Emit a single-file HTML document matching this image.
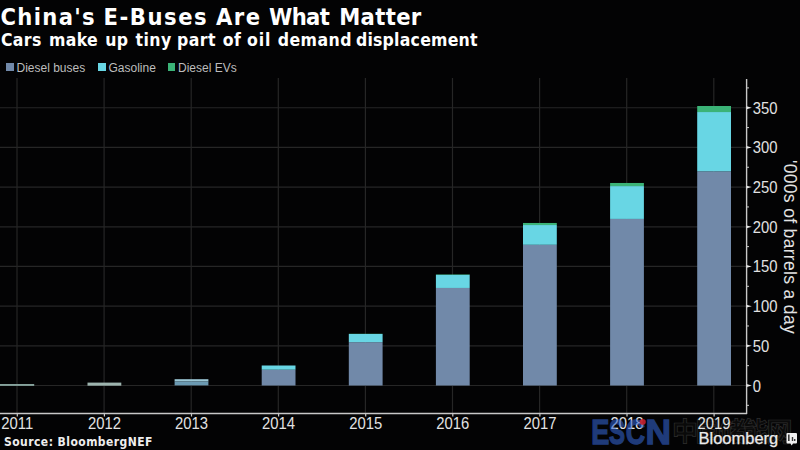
<!DOCTYPE html>
<html><head><meta charset="utf-8">
<style>
html,body{margin:0;padding:0;background:#030304;}
body{width:800px;height:450px;overflow:hidden;position:relative;}
.t,.tw,.sw{position:absolute;white-space:nowrap;color:#fff;}
.tw{font:bold 23.5px/1 "DejaVu Sans",sans-serif;font-stretch:condensed;}
.sw{font:bold 17.5px/1 "DejaVu Sans",sans-serif;font-stretch:condensed;}
.lg{position:absolute;top:62px;font:12px/1 "Liberation Sans",sans-serif;color:#bdbdbd;white-space:nowrap;}
.sq{position:absolute;width:7.5px;height:7.5px;}
#src{left:4px;top:436px;font:bold 12px/1 "DejaVu Sans",sans-serif;font-stretch:condensed;letter-spacing:0.45px;color:#eee;}
svg{position:absolute;left:0;top:0;}
.tl{font:15.8px "Liberation Sans",sans-serif;fill:#e2e2e2;}
</style></head><body>
<svg width="800" height="450" viewBox="0 0 800 450">
<line x1="0" y1="385.50" x2="746" y2="385.50" stroke="#262626" stroke-width="1.2"/>
<line x1="0" y1="345.82" x2="746" y2="345.82" stroke="#262626" stroke-width="1.2"/>
<line x1="0" y1="306.14" x2="746" y2="306.14" stroke="#262626" stroke-width="1.2"/>
<line x1="0" y1="266.46" x2="746" y2="266.46" stroke="#262626" stroke-width="1.2"/>
<line x1="0" y1="226.78" x2="746" y2="226.78" stroke="#262626" stroke-width="1.2"/>
<line x1="0" y1="187.10" x2="746" y2="187.10" stroke="#262626" stroke-width="1.2"/>
<line x1="0" y1="147.42" x2="746" y2="147.42" stroke="#262626" stroke-width="1.2"/>
<line x1="0" y1="107.74" x2="746" y2="107.74" stroke="#262626" stroke-width="1.2"/>
<line x1="17.00" y1="78" x2="17.00" y2="413" stroke="#262626" stroke-width="1.2"/>
<line x1="104.10" y1="78" x2="104.10" y2="413" stroke="#262626" stroke-width="1.2"/>
<line x1="191.20" y1="78" x2="191.20" y2="413" stroke="#262626" stroke-width="1.2"/>
<line x1="278.30" y1="78" x2="278.30" y2="413" stroke="#262626" stroke-width="1.2"/>
<line x1="365.40" y1="78" x2="365.40" y2="413" stroke="#262626" stroke-width="1.2"/>
<line x1="452.50" y1="78" x2="452.50" y2="413" stroke="#262626" stroke-width="1.2"/>
<line x1="539.60" y1="78" x2="539.60" y2="413" stroke="#262626" stroke-width="1.2"/>
<line x1="626.70" y1="78" x2="626.70" y2="413" stroke="#262626" stroke-width="1.2"/>
<line x1="713.80" y1="78" x2="713.80" y2="413" stroke="#262626" stroke-width="1.2"/>
<rect x="0" y="384" width="34.2" height="1.9" fill="#86a29c"/>
<rect x="87.50" y="382.6" width="33.8" height="3.1" fill="#9db4ae"/>
<rect x="174.60" y="379.2" width="33.8" height="2.3" fill="#9cc8d6"/>
<rect x="174.60" y="381.5" width="33.8" height="3.9" fill="#6b9ab2"/>
<rect x="261.70" y="369.71" width="33.8" height="15.79" fill="#7189a9"/>
<rect x="261.70" y="365.50" width="33.8" height="4.21" fill="#68d6e4"/>
<rect x="348.80" y="342.17" width="33.8" height="43.33" fill="#7189a9"/>
<rect x="348.80" y="334.00" width="33.8" height="8.17" fill="#68d6e4"/>
<rect x="348.80" y="333.76" width="33.8" height="0.24" fill="#3bb377"/>
<rect x="435.90" y="287.97" width="33.8" height="97.53" fill="#7189a9"/>
<rect x="435.90" y="274.79" width="33.8" height="13.17" fill="#68d6e4"/>
<rect x="435.90" y="274.40" width="33.8" height="0.40" fill="#3bb377"/>
<rect x="523.00" y="244.79" width="33.8" height="140.71" fill="#7189a9"/>
<rect x="523.00" y="225.03" width="33.8" height="19.76" fill="#68d6e4"/>
<rect x="523.00" y="222.97" width="33.8" height="2.06" fill="#3bb377"/>
<rect x="610.10" y="218.92" width="33.8" height="166.58" fill="#7189a9"/>
<rect x="610.10" y="186.07" width="33.8" height="32.86" fill="#68d6e4"/>
<rect x="610.10" y="182.97" width="33.8" height="3.10" fill="#3bb377"/>
<rect x="697.20" y="171.31" width="33.8" height="214.19" fill="#7189a9"/>
<rect x="697.20" y="112.03" width="33.8" height="59.28" fill="#68d6e4"/>
<rect x="697.20" y="105.99" width="33.8" height="6.03" fill="#3bb377"/>
<line x1="0" y1="413.5" x2="747" y2="413.5" stroke="#c8c8c8" stroke-width="1.3"/>
<line x1="746.6" y1="79" x2="746.6" y2="414" stroke="#c8c8c8" stroke-width="1.4"/>
<line x1="17.30" y1="413" x2="17.30" y2="416.5" stroke="#c8c8c8" stroke-width="1.2"/>
<line x1="104.40" y1="413" x2="104.40" y2="416.5" stroke="#c8c8c8" stroke-width="1.2"/>
<line x1="191.50" y1="413" x2="191.50" y2="416.5" stroke="#c8c8c8" stroke-width="1.2"/>
<line x1="278.60" y1="413" x2="278.60" y2="416.5" stroke="#c8c8c8" stroke-width="1.2"/>
<line x1="365.70" y1="413" x2="365.70" y2="416.5" stroke="#c8c8c8" stroke-width="1.2"/>
<line x1="452.80" y1="413" x2="452.80" y2="416.5" stroke="#c8c8c8" stroke-width="1.2"/>
<line x1="539.90" y1="413" x2="539.90" y2="416.5" stroke="#c8c8c8" stroke-width="1.2"/>
<line x1="627.00" y1="413" x2="627.00" y2="416.5" stroke="#c8c8c8" stroke-width="1.2"/>
<line x1="714.10" y1="413" x2="714.10" y2="416.5" stroke="#c8c8c8" stroke-width="1.2"/>
<polygon points="746.5,384.10 751.8,385.50 746.5,386.90" fill="#e6e6e6"/>
<polygon points="746.5,344.42 751.8,345.82 746.5,347.22" fill="#e6e6e6"/>
<polygon points="746.5,304.74 751.8,306.14 746.5,307.54" fill="#e6e6e6"/>
<polygon points="746.5,265.06 751.8,266.46 746.5,267.86" fill="#e6e6e6"/>
<polygon points="746.5,225.38 751.8,226.78 746.5,228.18" fill="#e6e6e6"/>
<polygon points="746.5,185.70 751.8,187.10 746.5,188.50" fill="#e6e6e6"/>
<polygon points="746.5,146.02 751.8,147.42 746.5,148.82" fill="#e6e6e6"/>
<polygon points="746.5,106.34 751.8,107.74 746.5,109.14" fill="#e6e6e6"/>
<line x1="746" y1="405.34" x2="749" y2="405.34" stroke="#c8c8c8" stroke-width="1"/>
<line x1="746" y1="365.66" x2="749" y2="365.66" stroke="#c8c8c8" stroke-width="1"/>
<line x1="746" y1="325.98" x2="749" y2="325.98" stroke="#c8c8c8" stroke-width="1"/>
<line x1="746" y1="286.30" x2="749" y2="286.30" stroke="#c8c8c8" stroke-width="1"/>
<line x1="746" y1="246.62" x2="749" y2="246.62" stroke="#c8c8c8" stroke-width="1"/>
<line x1="746" y1="206.94" x2="749" y2="206.94" stroke="#c8c8c8" stroke-width="1"/>
<line x1="746" y1="167.26" x2="749" y2="167.26" stroke="#c8c8c8" stroke-width="1"/>
<line x1="746" y1="127.58" x2="749" y2="127.58" stroke="#c8c8c8" stroke-width="1"/>
<line x1="746" y1="87.90" x2="749" y2="87.90" stroke="#c8c8c8" stroke-width="1"/>
</svg>
<span class="tw" style="left:0.5px;top:6px;letter-spacing:1.33px">China's</span>
<span class="tw" style="left:103.5px;top:6px;letter-spacing:1.53px">E-Buses</span>
<span class="tw" style="left:216px;top:6px;letter-spacing:1.5px">Are</span>
<span class="tw" style="left:269px;top:6px;letter-spacing:-0.67px">What</span>
<span class="tw" style="left:339.2px;top:6px;letter-spacing:0.36px">Matter</span>
<span class="sw" style="left:0.9px;top:32.2px;letter-spacing:0.4px">Cars</span>
<span class="sw" style="left:49px;top:32.2px;letter-spacing:0.3px">make</span>
<span class="sw" style="left:105.2px;top:32.2px;letter-spacing:0.4px">up</span>
<span class="sw" style="left:135.6px;top:32.2px;letter-spacing:0.4px">tiny</span>
<span class="sw" style="left:177.1px;top:32.2px;letter-spacing:0.4px">part</span>
<span class="sw" style="left:222.7px;top:32.2px;letter-spacing:0.4px">of</span>
<span class="sw" style="left:247.1px;top:32.2px;letter-spacing:0.8px">oil</span>
<span class="sw" style="left:277.7px;top:32.2px;letter-spacing:0.45px">demand</span>
<span class="sw" style="left:355.9px;top:32.2px;letter-spacing:0.23px">displacement</span>
<div class="sq" style="left:6.3px;top:63.2px;background:#7189a9"></div>
<div class="lg" style="left:16.5px">Diesel buses</div>
<div class="sq" style="left:98.1px;top:63.2px;background:#68d6e4"></div>
<div class="lg" style="left:108.5px">Gasoline</div>
<div class="sq" style="left:167.8px;top:63.2px;background:#3bb377"></div>
<div class="lg" style="left:178px">Diesel EVs</div>
<svg width="800" height="450" viewBox="0 0 800 450">
<text x="672" y="441" style="font:bold 26px 'Liberation Sans','Noto Sans CJK SC',sans-serif;letter-spacing:-2.4px;fill:#0a0a0a;stroke:#2e2e2e;stroke-width:0.7">中国储能网</text>
<text transform="translate(752.8,391.50) scale(0.94,1)" class="tl">0</text>
<text transform="translate(752.8,351.82) scale(0.94,1)" class="tl">50</text>
<text transform="translate(752.8,312.14) scale(0.94,1)" class="tl">100</text>
<text transform="translate(752.8,272.46) scale(0.94,1)" class="tl">150</text>
<text transform="translate(752.8,232.78) scale(0.94,1)" class="tl">200</text>
<text transform="translate(752.8,193.10) scale(0.94,1)" class="tl">250</text>
<text transform="translate(752.8,153.42) scale(0.94,1)" class="tl">300</text>
<text transform="translate(752.8,113.74) scale(0.94,1)" class="tl">350</text>
<text transform="translate(17.30,428.8) scale(0.94,1)" class="tl" text-anchor="middle">2011</text>
<text transform="translate(104.40,428.8) scale(0.94,1)" class="tl" text-anchor="middle">2012</text>
<text transform="translate(191.50,428.8) scale(0.94,1)" class="tl" text-anchor="middle">2013</text>
<text transform="translate(278.60,428.8) scale(0.94,1)" class="tl" text-anchor="middle">2014</text>
<text transform="translate(365.70,428.8) scale(0.94,1)" class="tl" text-anchor="middle">2015</text>
<text transform="translate(452.80,428.8) scale(0.94,1)" class="tl" text-anchor="middle">2016</text>
<text transform="translate(539.90,428.8) scale(0.94,1)" class="tl" text-anchor="middle">2017</text>
<text transform="translate(627.00,428.8) scale(0.94,1)" class="tl" text-anchor="middle">2018</text>
<text transform="translate(714.10,428.8) scale(0.94,1)" class="tl" text-anchor="middle">2019</text>
<g opacity="0.58" style="font:bold 35px 'Liberation Sans',sans-serif;fill:#3464cf;stroke:#3464cf;stroke-width:1.3">
<text transform="translate(591.3,443.6) scale(0.775,1)">E</text>
<text transform="translate(609,443.6) scale(0.686,1)">S</text>
<text transform="translate(625.7,443.6) scale(0.765,1)">C</text>
<text transform="translate(645.4,443.6) scale(1.01,1)">N</text>
</g>
<ellipse cx="642.7" cy="421.9" rx="3.1" ry="2.8" fill="#c21f2e" opacity="0.92"/>
<text transform="translate(784,160) rotate(90)" style="font:17.5px 'Liberation Sans',sans-serif;letter-spacing:0.33px;fill:#e2e2e2">'000s of barrels a day</text>
</svg>
<div class="t" id="src">Source: BloombergNEF</div>
<svg width="800" height="450" viewBox="0 0 800 450">
<text x="698.5" y="444.4" style="font:16.5px 'Liberation Sans',sans-serif;fill:#ececec;stroke:#ececec;stroke-width:0.25">Bloomberg</text>
<path d="M786.5 434 Q786.5 433 787.5 433 L796 433 Q797 433 797 434 L797 442.5 Q797 443.5 796 443.5 L793 443.5 L791.7 445.5 L790.4 443.5 L787.5 443.5 Q786.5 443.5 786.5 442.5 Z" fill="#f0f0f0"/>
<rect x="788" y="434.5" width="1.6" height="6.5" fill="#3a3a3a"/>
<rect x="791.8" y="437" width="1.4" height="4" fill="#3a3a3a"/>
<rect x="794" y="439" width="1.4" height="2" fill="#3a3a3a"/>
</svg>
</body></html>
